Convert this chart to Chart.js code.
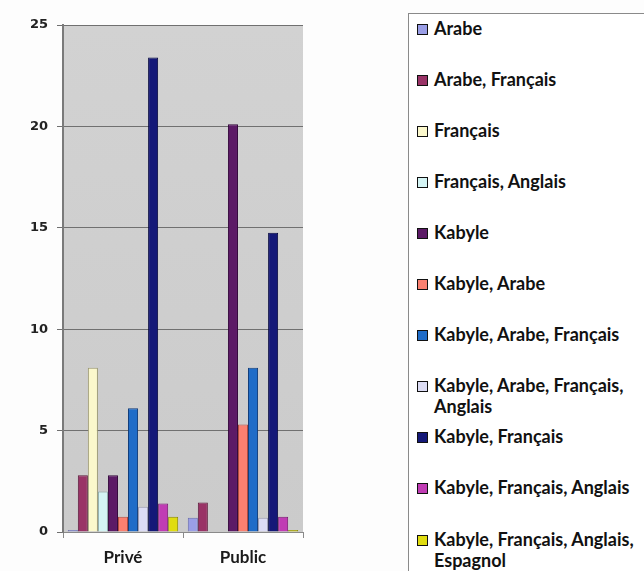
<!DOCTYPE html>
<html><head><meta charset="utf-8">
<script src="https://cdn.jsdelivr.net/npm/chart.js@4"></script>
<style>
html,body{margin:0;padding:0;background:#fdfdfd;}
#wrap{position:relative;width:644px;height:571px;overflow:hidden;}
#c{position:absolute;left:0;top:0;}
#legend{position:absolute;left:408px;top:13px;width:260px;height:600px;border:1px solid #8a8a8a;background:#fff;}
.item{position:absolute;left:8px;display:flex;align-items:flex-start;font:bold 18px Lato, sans-serif;color:#111;line-height:21px;width:226px}
.sw{width:9px;height:9px;border:1.5px solid #111;margin-top:6px;margin-right:6px;flex:none}
</style></head>
<body>
<div id="wrap">
<canvas id="c" width="644" height="571"></canvas>
<div id="legend"></div>
</div>
<script>
const categories = ['Privé', 'Public'];
const seriesNames = ['Arabe', 'Arabe, Français', 'Français', 'Français, Anglais', 'Kabyle', 'Kabyle, Arabe', 'Kabyle, Arabe, Français', 'Kabyle, Arabe, Français, Anglais', 'Kabyle, Français', 'Kabyle, Français, Anglais', 'Kabyle, Français, Anglais, Espagnol'];
const priveValues = [0.1, 2.8, 8.1, 2.0, 2.8, 0.75, 6.1, 1.25, 23.4, 1.4, 0.75];
const publicValues = [0.7, 1.45, 0, 0, 20.1, 5.3, 8.1, 0.7, 14.75, 0.75, 0.1];
const yTicks = [0, 5, 10, 15, 20, 25];
const fillColors = ['#9a9ee6', '#993366', '#fbf8cc', '#d4f4f4', '#5c1a66', '#fa8070', '#1f6cc8', '#dcdcf4', '#141878', '#c03cb4', '#e0dc10'];
const edgeColors = ['#6a6eb0', '#5e1c3c', '#9a9870', '#8aa8a8', '#34083c', '#b04c40', '#103c7a', '#9a9ab0', '#060840', '#7a1a72', '#8a8800'];

const datasets = seriesNames.map((name, i) => ({
  label: name,
  data: [priveValues[i], publicValues[i]],
  backgroundColor: fillColors[i],
  borderColor: edgeColors[i],
  borderWidth: 1,
  categoryPercentage: 0.92,
  barPercentage: 1.0
}));

const plotBg = {
  id: 'plotBg',
  beforeDraw(chart) {
    const {ctx, chartArea: a} = chart;
    const g = ctx.createLinearGradient(0, a.top, 0, a.bottom);
    g.addColorStop(0, '#d2d2d2');
    g.addColorStop(1, '#cbcbcb');
    ctx.save();
    ctx.fillStyle = g;
    ctx.fillRect(a.left, a.top, a.right - a.left, a.bottom - a.top);
    ctx.restore();
  }
};

new Chart(document.getElementById('c'), {
  type: 'bar',
  data: { labels: categories, datasets },
  options: {
    responsive: false,
    animation: false,
    layout: { padding: { left: 0, right: 341, top: 25, bottom: 0 } },
    plugins: { legend: { display: false }, tooltip: { enabled: false } },
    scales: {
      x: {
        afterFit(s) { s.height = 39; },
        grid: { display: true, drawOnChartArea: false, offset: true, tickLength: 6, color: '#8a8a8a' },
        border: { color: '#8a8a8a', width: 1 },
        ticks: { font: { family: 'Lato', weight: 'bold', size: 17 }, color: '#1a1a1a', padding: 9 }
      },
      y: {
        min: 0, max: 25,
        afterFit(s) { s.width = 63; },
        afterBuildTicks(s) { s.ticks = yTicks.map(v => ({ value: v })); },
        grid: { color: '#707070', lineWidth: 1, tickLength: 6 },
        border: { color: '#7a7a7a', width: 2 },
        ticks: { font: { family: 'DejaVu Sans', weight: 'bold', size: 13 }, color: '#222', padding: 9 }
      }
    }
  },
  plugins: [plotBg]
});

const legend = document.getElementById('legend');
seriesNames.forEach((name, i) => {
  const it = document.createElement('div');
  it.className = 'item';
  it.style.top = (3.5 + 51.1 * i) + 'px';
  const sw = document.createElement('span');
  sw.className = 'sw';
  sw.style.background = fillColors[i];
  const tx = document.createElement('span');
  tx.textContent = name;
  it.appendChild(sw);
  it.appendChild(tx);
  legend.appendChild(it);
});
</script>
</body></html>
